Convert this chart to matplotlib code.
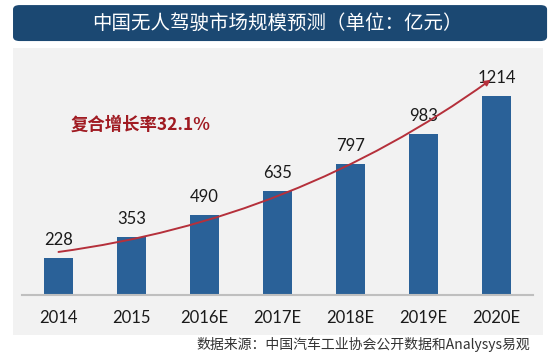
import matplotlib
matplotlib.use("Agg")
import matplotlib.pyplot as plt
from matplotlib.patches import Rectangle, FancyBboxPatch

# chart data
years = ["2014", "2015", "2016E", "2017E", "2018E", "2019E", "2020E"]
market_size = [228, 353, 490, 635, 797, 983, 1214]
cagr_label = "复合增长率32.1%"
title = "中国无人驾驶市场规模预测（单位：亿元）"
source = "数据来源：中国汽车工业协会公开数据和Analysys易观"

cjk = ["Noto Sans CJK SC", "DejaVu Sans"]
num_font = ["Lato", "DejaVu Sans"]

fig = plt.figure(figsize=(5.54, 3.57), dpi=100)
fig.patch.set_facecolor("white")

# grey background panel and title banner (drawn behind the axes)
fig.patches.append(Rectangle((0.0235, 0.0616), 0.9567, 0.804, transform=fig.transFigure,
                             facecolor="#f2f2f2", edgecolor="none", zorder=-2))
fig.patches.append(FancyBboxPatch((0.0235, 0.885), 0.964, 0.1008, transform=fig.transFigure,
                                  boxstyle="round,pad=0,rounding_size=0.012",
                                  facecolor="#1b4872", edgecolor="none", zorder=-2))
fig.text(0.5, 0.934, title, color="white", fontsize=14, ha="center", va="center",
         family=cjk)

ax = fig.add_axes([0.0397, 0.1737, 0.9224, 0.6667])
ax.set_facecolor("none")
x = list(range(len(years)))
ax.bar(x, market_size, width=0.41, color="#2a6198", zorder=2)

for xi, v in zip(x, market_size):
    ax.annotate(str(v), (xi, v), xytext=(0, 13), textcoords="offset points",
                ha="center", va="center", fontsize=12, color="#1a1a1a", family=num_font)

# growth trend arrow
ax.annotate("", xy=(x[-1] - 0.08, market_size[-1] * 1.08),
            xytext=(x[0], market_size[0] * 1.15),
            arrowprops=dict(arrowstyle="-|>", connectionstyle="arc3,rad=0.125",
                            color="#b5303b", lw=1.4, mutation_scale=8,
                            shrinkA=0, shrinkB=0), zorder=3)
ax.text(1.12, 1037, cagr_label, color="#a01b22", fontsize=12.5, fontweight="bold",
        ha="center", va="center", family=cjk)

ax.set_xlim(-0.5, 6.5)
ax.set_ylim(0, 1450)
ax.set_yticks([])
ax.set_xticks(x)
ax.set_xticklabels(years, family=num_font, fontsize=12, color="#1a1a1a")
ax.tick_params(axis="x", length=0, pad=11)
for s in ["top", "right", "left"]:
    ax.spines[s].set_visible(False)
ax.spines["bottom"].set_color("#bfbfbf")
ax.spines["bottom"].set_linewidth(1.5)

fig.text(0.957, 0.034, source, fontsize=10, ha="right", va="center",
         color="#333333", family=cjk)

fig.savefig("out.png", dpi=100)
